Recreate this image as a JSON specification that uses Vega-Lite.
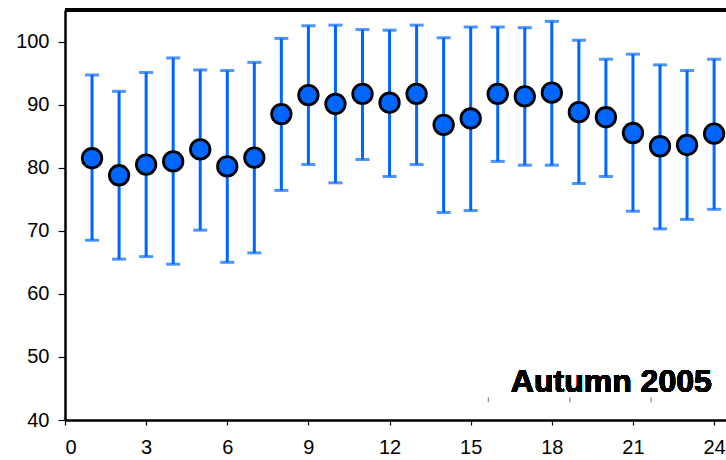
{
  "$schema": "https://vega.github.io/schema/vega-lite/v6.json",
  "width": 661,
  "height": 410,
  "autosize": {"type": "none"},
  "padding": {"left": 65, "top": 10, "right": 0, "bottom": 40},
  "config": {
    "view": {"stroke": null},
    "font": "Liberation Sans"
  },
  "data": {
    "values": [
      {"x": 1, "mean": 81.5, "lo": 68.5, "hi": 94.7},
      {"x": 2, "mean": 78.8, "lo": 65.5, "hi": 92.1},
      {"x": 3, "mean": 80.5, "lo": 65.9, "hi": 95.1},
      {"x": 4, "mean": 81.0, "lo": 64.7, "hi": 97.4},
      {"x": 5, "mean": 82.9, "lo": 70.1, "hi": 95.5},
      {"x": 6, "mean": 80.2, "lo": 65.0, "hi": 95.4},
      {"x": 7, "mean": 81.6, "lo": 66.5, "hi": 96.7},
      {"x": 8, "mean": 88.5, "lo": 76.4, "hi": 100.5},
      {"x": 9, "mean": 91.5, "lo": 80.5, "hi": 102.5},
      {"x": 10, "mean": 90.1, "lo": 77.6, "hi": 102.6},
      {"x": 11, "mean": 91.7, "lo": 81.3, "hi": 101.9},
      {"x": 12, "mean": 90.3, "lo": 78.6, "hi": 101.8},
      {"x": 13, "mean": 91.7, "lo": 80.5, "hi": 102.6},
      {"x": 14, "mean": 86.8, "lo": 72.9, "hi": 100.6},
      {"x": 15, "mean": 87.8, "lo": 73.2, "hi": 102.3},
      {"x": 16, "mean": 91.7, "lo": 81.0, "hi": 102.3},
      {"x": 17, "mean": 91.3, "lo": 80.4, "hi": 102.2},
      {"x": 18, "mean": 91.9, "lo": 80.4, "hi": 103.2},
      {"x": 19, "mean": 88.8, "lo": 77.5, "hi": 100.2},
      {"x": 20, "mean": 88.0, "lo": 78.6, "hi": 97.2},
      {"x": 21, "mean": 85.5, "lo": 73.1, "hi": 98.0},
      {"x": 22, "mean": 83.4, "lo": 70.3, "hi": 96.3},
      {"x": 23, "mean": 83.6, "lo": 71.8, "hi": 95.4},
      {"x": 24, "mean": 85.4, "lo": 73.4, "hi": 97.2}
    ]
  },
  "layer": [
    {
      "mark": {"type": "rule", "color": "#0066ff", "strokeWidth": 3},
      "encoding": {
        "x": {
          "field": "x", "type": "quantitative",
          "scale": {"domain": [0, 24.44], "nice": false, "zero": false},
          "axis": {"values": [0, 3, 6, 9, 12, 15, 18, 21, 24], "tickSize": 5, "labelPadding": 12, "labelFontSize": 20, "labelFont": "Arial", "labelColor": "black", "grid": false, "title": null, "domainColor": "black", "domainWidth": 2.5, "tickColor": "black", "tickWidth": 1.2}
        },
        "y": {
          "field": "lo", "type": "quantitative",
          "scale": {"domain": [40, 105], "nice": false, "zero": false},
          "axis": {"values": [40, 50, 60, 70, 80, 90, 100], "tickSize": 7, "labelPadding": 9, "labelFontSize": 20, "labelFont": "Arial", "labelColor": "black", "grid": false, "title": null, "domainColor": "black", "domainWidth": 2.5, "tickColor": "black", "tickWidth": 1.2}
        },
        "y2": {"field": "hi"}
      }
    },
    {
      "mark": {"type": "tick", "orient": "horizontal", "color": "#0066ff", "size": 14, "thickness": 3},
      "encoding": {
        "x": {"field": "x", "type": "quantitative"},
        "y": {"field": "hi", "type": "quantitative"}
      }
    },
    {
      "mark": {"type": "tick", "orient": "horizontal", "color": "#0066ff", "size": 14, "thickness": 3},
      "encoding": {
        "x": {"field": "x", "type": "quantitative"},
        "y": {"field": "lo", "type": "quantitative"}
      }
    },
    {
      "mark": {"type": "point", "shape": "circle", "filled": true, "fill": "#0066ff", "stroke": "black", "strokeWidth": 2.8, "size": 380, "opacity": 1, "fillOpacity": 1},
      "encoding": {
        "x": {"field": "x", "type": "quantitative"},
        "y": {"field": "mean", "type": "quantitative"}
      }
    },
    {
      "mark": {"type": "rule", "color": "black", "strokeWidth": 2.5},
      "encoding": {"y": {"datum": 105}}
    },
    {
      "data": {"values": [{"x": 15.65}, {"x": 18.67}, {"x": 21.67}]},
      "mark": {"type": "tick", "orient": "vertical", "color": "#333333", "size": 5, "thickness": 1},
      "encoding": {
        "x": {"field": "x", "type": "quantitative"},
        "y": {"datum": 43.2}
      }
    },
    {
      "mark": {"type": "text", "text": "Autumn 2005", "fontSize": 32, "fontWeight": "bold", "align": "center", "baseline": "alphabetic", "fill": "black", "font": "Arial"},
      "encoding": {
        "x": {"datum": 20.2},
        "y": {"datum": 44.4}
      }
    }
  ]
}
